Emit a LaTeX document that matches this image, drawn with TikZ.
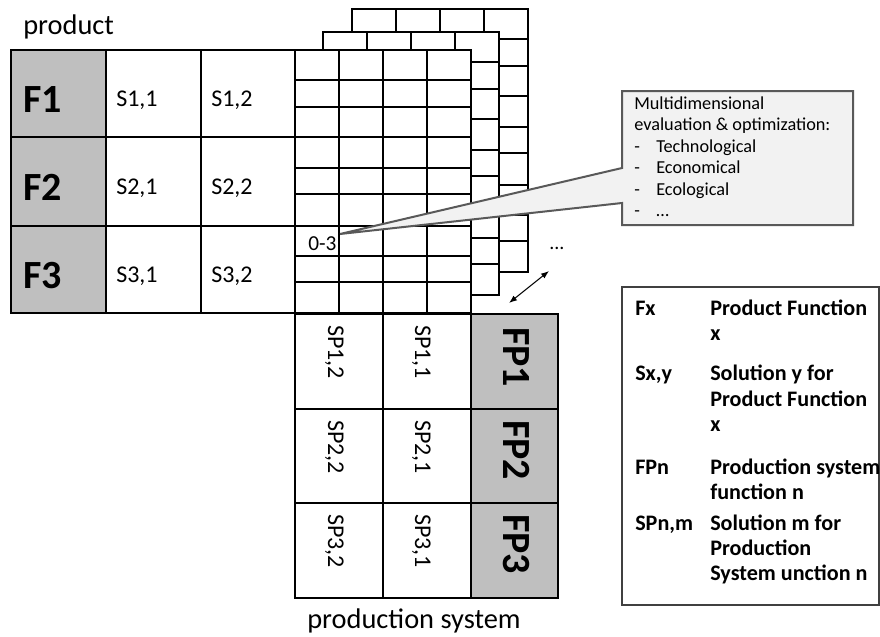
\documentclass[tikz,border=0pt]{standalone}
\usepackage{fontspec}
\setmainfont{Carlito}
\usetikzlibrary{arrows.meta}
\definecolor{cellgray}{HTML}{BFBFBF}
\definecolor{callfill}{HTML}{F2F2F2}
\definecolor{callline}{HTML}{595959}
\begin{document}
\begin{tikzpicture}[x=0.75pt,y=-0.75pt,
  tbl/.style={draw=black,line width=1.4pt},
  grd/.style={draw=black,line width=1.1pt},
  lab/.style={inner sep=0pt,anchor=base west},
  flab/.style={lab,font=\fontsize{30}{36}\selectfont\bfseries},
  slab/.style={lab,font=\fontsize{18}{22}\selectfont},
  vflab/.style={flab,rotate=-90},
  vslab/.style={slab,rotate=-90},
  clab/.style={lab,font=\fontsize{13.7}{16}\selectfont},
  glab/.style={lab,font=\fontsize{16.6}{20}\selectfont\bfseries},
  big/.style={lab,font=\fontsize{21.3}{25}\selectfont}]
\useasboundingbox (0,0) rectangle (880,636);

% stacked evaluation grids (back to front)
\foreach \dx/\dy in {57/-41,28/-18,0/0}{
  \begin{scope}[shift={(\dx,\dy)}]
    \fill[white] (295,50) rectangle (471,313);
    \foreach \yy in {80,107,137,168,194,226,256,282}
      \draw[grd] (295,\yy) -- (471,\yy);
    \foreach \xx in {339,383,427}
      \draw[grd] (\xx,50) -- (\xx,313);
    \draw[grd] (295,50) rectangle (471,313);
  \end{scope}
}

% product table
\fill[cellgray] (11,50) rectangle (106,313);
\draw[tbl] (11,50) rectangle (295,313);
\draw[tbl] (106,50) -- (106,313) (201,50) -- (201,313);
\draw[tbl] (11,137) -- (295,137) (11,226) -- (295,226);
\draw[tbl] (295,313) -- (471,313);

\node[flab] (f1) at (23,112) {F1};
\node[flab] (f2) at (23,200) {F2};
\node[flab] (f3) at (23,288) {F3};
\node[slab] (s11) at (116,106) {S1,1};
\node[slab] (s12) at (211,106) {S1,2};
\node[slab] (s21) at (116,194) {S2,1};
\node[slab] (s22) at (211,194) {S2,2};
\node[slab] (s31) at (116,282) {S3,1};
\node[slab] (s32) at (211,282) {S3,2};
\node[big] (product) at (23,34) {product};

% production system table
\fill[cellgray] (471,314) rectangle (558,598);
\draw[tbl] (295,314) rectangle (558,598);
\draw[tbl] (383,314) -- (383,598) (471,314) -- (471,598);
\draw[tbl] (295,409) -- (558,409) (295,503) -- (558,503);

\node[vslab] (sp12) at (328,325) {SP1,2};
\node[vslab] (sp11) at (415,325) {SP1,1};
\node[vflab] (fp1) at (503,327) {FP1};
\node[vslab] (sp22) at (328,420) {SP2,2};
\node[vslab] (sp21) at (415,420) {SP2,1};
\node[vflab] (fp2) at (503,420) {FP2};
\node[vslab] (sp32) at (328,514) {SP3,2};
\node[vslab] (sp31) at (415,514) {SP3,1};
\node[vflab] (fp3) at (503,514) {FP3};
\node[big] (prodsys) at (307,628) {production system};

% value in grid
\node[lab,font=\fontsize{16}{19}\selectfont] (val) at (308,250) {0-3};
\node[lab,font=\fontsize{15}{18}\selectfont] (dots) at (549,249) {...};

% double arrow between layers and production system
\coordinate (aa) at (509,303);
\coordinate (ab) at (549,271);
\draw[{Latex[length=6pt,width=4.5pt]}-{Latex[length=6pt,width=4.5pt]},line width=0.8pt] (aa) -- (ab);

% callout
\coordinate (tip) at (340,234);
\draw[fill=callfill,draw=callline,line width=1.5pt,line join=miter]
  (622,91) -- (853,91) -- (853,225) -- (622,225) -- (622,203) -- (tip) -- (622,168) -- cycle;
\node[clab] (c1) at (634,109) {Multidimensional};
\node[clab] (c2) at (634,130.5) {evaluation \& optimization:};
\node[clab] (c3) at (634,152) {\makebox[16.5pt][l]{-}Technological};
\node[clab] (c4) at (634,173.5) {\makebox[16.5pt][l]{-}Economical};
\node[clab] (c5) at (634,195) {\makebox[16.5pt][l]{-}Ecological};
\node[clab] (c6) at (634,216.5) {\makebox[16.5pt][l]{-}…};

% legend
\draw[draw=black!75,line width=1.1pt] (622,287) rectangle (879,605);
\node[glab] (k1) at (635,315) {Fx};
\node[glab] (d1a) at (710,315) {Product Function};
\node[glab] (d1b) at (710,340) {x};
\node[glab] (k2) at (635,380) {Sx,y};
\node[glab] (d2a) at (710,380) {Solution y for};
\node[glab] (d2b) at (710,406) {Product Function};
\node[glab] (d2c) at (710,431) {x};
\node[glab] (k3) at (635,474) {FPn};
\node[glab] (d3a) at (710,474) {Production system};
\node[glab] (d3b) at (710,499) {function n};
\node[glab] (k4) at (635,530) {SPn,m};
\node[glab] (d4a) at (710,530) {Solution m for};
\node[glab] (d4b) at (710,555) {Production};
\node[glab] (d4c) at (710,580) {System unction n};
\end{tikzpicture}
\end{document}
